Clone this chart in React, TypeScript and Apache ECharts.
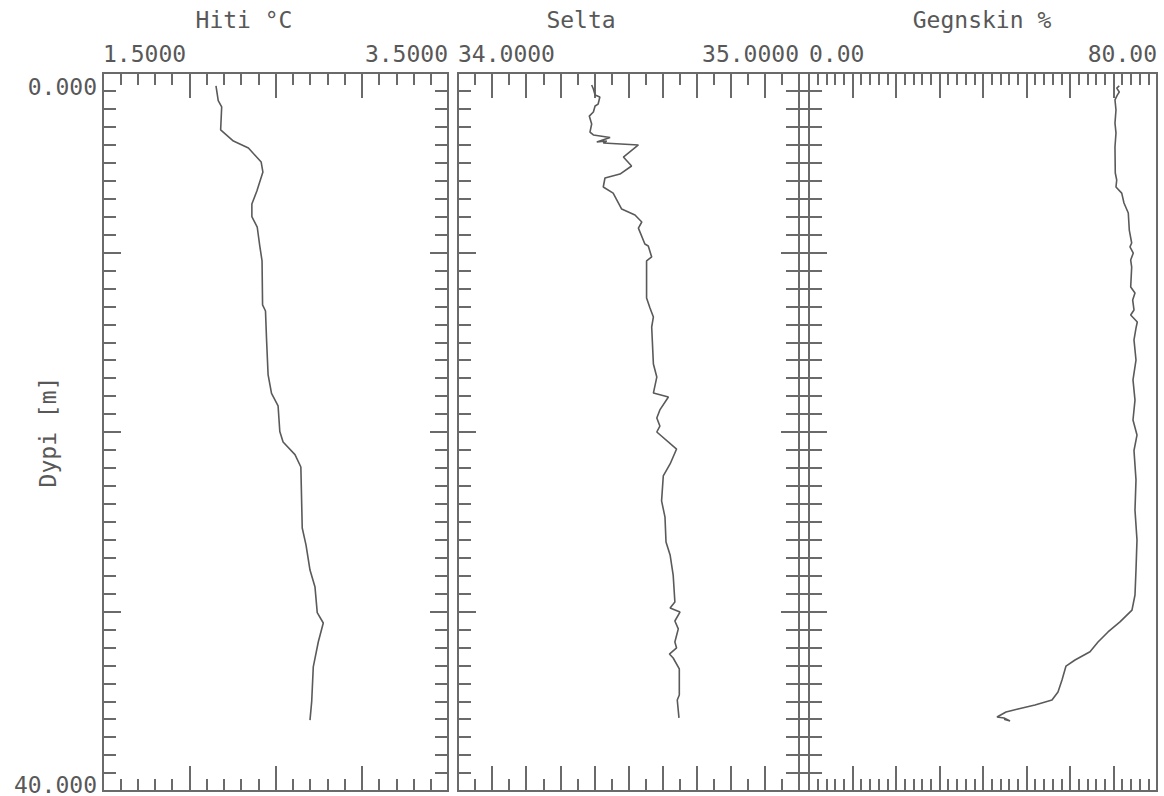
import React, { useEffect, useRef } from 'react';
import * as echarts from 'echarts';

// ---------- data ----------
const panelTitles = ['Hiti °C', 'Selta', 'Gegnskin %'];
const xMins = [1.5, 34, 0];
const xMaxs = [3.5, 35, 80];
const xIntervals = [0.5, 0.1, 10];
const xMinorSplits = [5, 2, 5];
const xMinLabels = ['1.5000', '34.0000', '0.00'];
const xMaxLabels = ['3.5000', '35.0000', '80.00'];
const depthMin = 0;
const depthMax = 40;
const depthInterval = 10;
const depthMinLabel = '0.000';
const depthMaxLabel = '40.000';
const depthName = 'Dypi [m]';

const tempDepth = [0.72, 1.54, 1.89, 3.17, 3.79, 4.18, 4.96, 5.52, 6.57, 7.30, 8.00, 8.58, 9.64, 10.47, 12.92, 13.26, 14.82, 16.80, 17.85, 18.55, 19.97, 20.56, 21.26, 21.95, 25.35, 26.30, 27.69, 28.64, 30.06, 30.64, 31.70, 33.09, 34.99, 36.05];
const tempValues = [2.155, 2.168, 2.188, 2.182, 2.256, 2.343, 2.417, 2.427, 2.392, 2.363, 2.363, 2.394, 2.409, 2.422, 2.425, 2.442, 2.448, 2.457, 2.477, 2.515, 2.525, 2.544, 2.613, 2.647, 2.655, 2.677, 2.700, 2.729, 2.742, 2.777, 2.748, 2.719, 2.710, 2.700];

const saltDepth = [0.67, 0.89, 1.23, 1.34, 1.73, 1.84, 2.17, 2.40, 2.84, 3.29, 3.45, 3.59, 3.84, 3.79, 3.90, 4.01, 4.68, 5.18, 5.63, 5.85, 6.35, 6.69, 7.58, 7.91, 8.30, 8.64, 9.53, 9.64, 10.25, 10.47, 12.54, 13.09, 13.59, 14.15, 16.21, 16.94, 17.83, 18.05, 18.77, 19.22, 19.67, 20.0, 20.95, 21.78, 22.45, 23.84, 24.74, 26.13, 26.85, 27.97, 29.47, 29.81, 30.03, 30.53, 30.97, 31.70, 32.03, 32.37, 32.59, 33.20, 34.65, 34.93, 35.93];
const saltValues = [34.392, 34.397, 34.402, 34.416, 34.411, 34.402, 34.397, 34.385, 34.392, 34.387, 34.397, 34.446, 34.407, 34.436, 34.426, 34.529, 34.485, 34.509, 34.475, 34.431, 34.426, 34.455, 34.480, 34.519, 34.539, 34.529, 34.548, 34.558, 34.568, 34.553, 34.553, 34.563, 34.573, 34.568, 34.573, 34.583, 34.573, 34.617, 34.592, 34.583, 34.592, 34.583, 34.641, 34.622, 34.602, 34.597, 34.607, 34.610, 34.622, 34.631, 34.636, 34.622, 34.651, 34.636, 34.646, 34.636, 34.641, 34.620, 34.631, 34.649, 34.649, 34.643, 34.648];

const satDepth = [0.72, 0.84, 1.06, 1.23, 1.50, 2.06, 2.79, 3.34, 4.12, 5.57, 5.96, 6.35, 6.69, 7.24, 7.80, 8.75, 9.47, 9.69, 10.03, 10.42, 10.81, 11.92, 12.26, 12.65, 13.20, 13.48, 13.87, 14.21, 14.87, 15.99, 17.10, 18.22, 19.33, 20.17, 21.03, 22.67, 24.35, 26.02, 27.69, 29.08, 29.92, 30.58, 31.14, 31.70, 32.24, 32.70, 33.04, 33.82, 34.48, 34.93, 35.21, 35.43, 35.60, 35.88, 35.93, 36.10, 36.00];
const satValues = [71.33, 70.74, 71.33, 70.87, 70.34, 70.57, 70.34, 70.57, 70.34, 70.41, 70.74, 70.57, 71.89, 72.41, 73.40, 73.63, 74.18, 73.79, 74.55, 73.95, 74.18, 73.95, 74.94, 74.41, 74.71, 73.95, 75.47, 75.17, 74.71, 75.17, 74.48, 74.94, 74.48, 75.40, 74.71, 75.17, 74.94, 75.40, 75.17, 74.94, 74.25, 71.49, 68.74, 66.44, 64.60, 61.15, 59.08, 58.16, 57.24, 55.86, 51.95, 48.05, 45.29, 43.22, 44.83, 46.21, 44.83];

const seriesDepths = [tempDepth, saltDepth, satDepth];
const seriesValues = [tempValues, saltValues, satValues];

// ---------- layout / style ----------
const gridLefts = [103, 458, 809];
const gridWidths = [345, 341, 348];
const gridTop = 73;
const gridHeight = 718;
const titleCenters = [244, 581, 982];
const FONT = "'DejaVu Sans Mono', monospace";
const FONT_SIZE = 23;
const TEXT_COLOR = '#585858';
const LINE_COLOR = '#6a6a6a';

function near(a: number, b: number) {
  return Math.abs(a - b) < 1e-7;
}

export default function App() {
  const ref = useRef<HTMLDivElement>(null);

  useEffect(() => {
    document.body.style.margin = '0';
    if (!ref.current) return;
    const chart = echarts.init(ref.current, null, { renderer: 'svg' });

    const grids: any[] = [];
    const xAxes: any[] = [];
    const yAxes: any[] = [];
    const series: any[] = [];
    const titles: any[] = [];

    for (let i = 0; i < 3; i++) {
      grids.push({
        left: gridLefts[i],
        top: gridTop,
        width: gridWidths[i],
        height: gridHeight,
        show: true,
        borderColor: LINE_COLOR,
        borderWidth: 2,
        backgroundColor: 'transparent',
        containLabel: false,
        outerBoundsMode: 'none',
      });
      titles.push({
        text: panelTitles[i],
        left: titleCenters[i],
        top: 8,
        textAlign: 'center',
        padding: 0,
        textStyle: { fontFamily: FONT, fontSize: FONT_SIZE, fontWeight: 'normal', color: TEXT_COLOR },
      });
      const min = xMins[i];
      const max = xMaxs[i];
      const common = {
        type: 'value',
        gridIndex: i,
        min,
        max,
        interval: xIntervals[i],
        splitLine: { show: false },
        axisLine: { show: false },
      };
      // top axis with ticks and min label
      xAxes.push({
        ...common,
        position: 'top',
        axisTick: { show: true, inside: true, length: 25, lineStyle: { color: LINE_COLOR, width: 2 } },
        minorTick: { show: true, splitNumber: xMinorSplits[i], length: 12, lineStyle: { color: LINE_COLOR, width: 2 } },
        axisLabel: {
          show: true,
          showMinLabel: true,
          showMaxLabel: true,
          align: 'left',
          margin: 8,
          fontFamily: FONT,
          fontSize: FONT_SIZE,
          color: TEXT_COLOR,
          formatter: (v: number) => (near(v, min) ? xMinLabels[i] : ''),
        },
      });
      // top axis carrying max label
      xAxes.push({
        ...common,
        position: 'top',
        axisTick: { show: false },
        minorTick: { show: false },
        axisLabel: {
          show: true,
          showMinLabel: true,
          showMaxLabel: true,
          align: 'right',
          margin: 8,
          fontFamily: FONT,
          fontSize: FONT_SIZE,
          color: TEXT_COLOR,
          formatter: (v: number) => (near(v, max) ? xMaxLabels[i] : ''),
        },
      });
      // bottom axis ticks
      xAxes.push({
        ...common,
        position: 'bottom',
        axisTick: { show: true, inside: true, length: 25, lineStyle: { color: LINE_COLOR, width: 2 } },
        minorTick: { show: true, splitNumber: xMinorSplits[i], length: 12, lineStyle: { color: LINE_COLOR, width: 2 } },
        axisLabel: { show: false },
      });

      const yCommon = {
        type: 'value',
        gridIndex: i,
        inverse: true,
        min: depthMin,
        max: depthMax,
        interval: depthInterval,
        splitLine: { show: false },
        axisLine: { show: false },
        axisTick: { show: true, inside: true, length: 18, lineStyle: { color: LINE_COLOR, width: 2 } },
        minorTick: { show: true, splitNumber: 10, length: 13, lineStyle: { color: LINE_COLOR, width: 2 } },
      };
      yAxes.push({
        ...yCommon,
        position: 'left',
        name: i === 0 ? depthName : '',
        nameLocation: 'middle',
        nameGap: 44,
        nameRotate: 90,
        nameMoveOverlap: false,
        nameTextStyle: { fontFamily: FONT, fontSize: FONT_SIZE, color: TEXT_COLOR },
        axisLabel: {
          show: i === 0,
          showMinLabel: true,
          showMaxLabel: true,
          margin: 6,
          fontFamily: FONT,
          fontSize: FONT_SIZE,
          color: TEXT_COLOR,
          formatter: (v: number) =>
            near(v, depthMin) ? '{t|' + depthMinLabel + '}' : near(v, depthMax) ? '{b|' + depthMaxLabel + '}' : '',
          rich: {
            t: { fontFamily: FONT, fontSize: FONT_SIZE, color: TEXT_COLOR, padding: [27, 0, 0, 0] },
            b: { fontFamily: FONT, fontSize: FONT_SIZE, color: TEXT_COLOR, padding: [0, 0, 13, 0] },
          },
        },
      });
      yAxes.push({
        ...yCommon,
        position: 'right',
        axisLabel: { show: false },
      });

      series.push({
        type: 'line',
        xAxisIndex: i * 3,
        yAxisIndex: i * 2,
        showSymbol: false,
        symbol: 'none',
        lineStyle: { color: '#5a5a5a', width: 1.6 },
        data: seriesValues[i].map((v, k) => [v, seriesDepths[i][k]]),
      });
    }

    chart.setOption({
      animation: false,
      backgroundColor: '#ffffff',
      title: titles,
      grid: grids,
      xAxis: xAxes,
      yAxis: yAxes,
      series,
    });

    return () => {
      chart.dispose();
    };
  }, []);

  return <div ref={ref} style={{ width: 1164, height: 796 }} />;
}
